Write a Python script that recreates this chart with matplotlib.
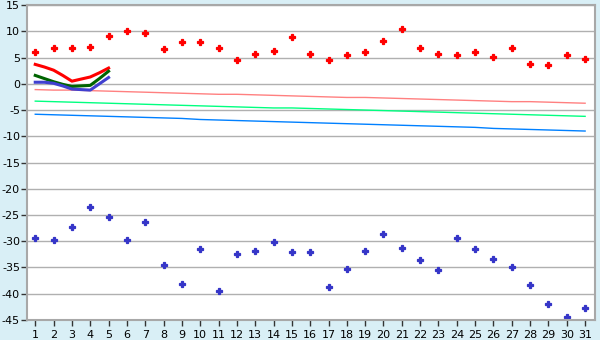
"""
Daily temperature chart: extremes, normals and first days detail
"""

import matplotlib
matplotlib.use("Agg")
import matplotlib.pyplot as plt

plt.rcParams["axes.unicode_minus"] = False

days = list(range(1, 32))

# daily maxima / minima (scatter)
max_temp = [6.0, 6.9, 6.8, 7.1, 9.2, 10.0, 9.6, 6.6, 7.9, 7.9,
            6.8, 4.6, 5.6, 6.2, 8.9, 5.7, 4.5, 5.4, 6.0, 8.1,
            10.4, 6.9, 5.7, 5.4, 6.0, 5.2, 6.8, 3.7, 3.5, 5.4, 4.8]
min_temp = [-29.4, -29.8, -27.2, -23.4, -25.4, -29.8, -26.4, -34.6, -38.2, -31.4,
            -39.5, -32.5, -31.9, -30.2, -32.1, -32.1, -38.8, -35.2, -31.9, -28.7,
            -31.2, -33.6, -35.4, -29.3, -31.5, -33.3, -35.0, -38.4, -42.0, -44.5, -42.8]

# normals (thin lines)
norm_max = [-1.1, -1.2, -1.2, -1.3, -1.4, -1.5, -1.6, -1.7, -1.8, -1.9,
            -2.0, -2.0, -2.1, -2.2, -2.3, -2.4, -2.5, -2.6, -2.6, -2.7,
            -2.8, -2.9, -3.0, -3.1, -3.2, -3.3, -3.4, -3.4, -3.5, -3.6, -3.7]
norm_mean = [-3.3, -3.4, -3.5, -3.6, -3.7, -3.8, -3.9, -4.0, -4.1, -4.2,
             -4.3, -4.4, -4.5, -4.6, -4.6, -4.7, -4.8, -4.9, -5.0, -5.1,
             -5.2, -5.3, -5.4, -5.5, -5.6, -5.7, -5.8, -5.9, -6.0, -6.1, -6.2]
norm_min = [-5.8, -5.9, -6.0, -6.1, -6.2, -6.3, -6.4, -6.5, -6.6, -6.8,
            -6.9, -7.0, -7.1, -7.2, -7.3, -7.4, -7.5, -7.6, -7.7, -7.8,
            -7.9, -8.0, -8.1, -8.2, -8.3, -8.5, -8.6, -8.7, -8.8, -8.9, -9.0]

# current readings, first five days (half-day steps)
recent_days = [1, 1.5, 2, 2.5, 3, 3.5, 4, 4.5, 5]
recent_max = [3.7, 3.2, 2.6, 1.6, 0.5, 0.9, 1.3, 2.1, 3.0]
recent_mean = [1.6, 1.0, 0.4, -0.1, -0.5, -0.4, -0.3, 1.0, 2.4]
recent_min = [0.3, 0.3, 0.1, -0.4, -1.0, -1.1, -1.2, 0.0, 1.2]

fig = plt.figure(figsize=(6, 3.4), dpi=100, facecolor="#d9eff6")
ax = fig.add_axes([0.045, 0.059, 0.947, 0.926])
ax.set_facecolor("white")

# grid
ax.grid(axis="y", color="#b0b0b0", linewidth=1)
ax.set_axisbelow(True)

# normals
ax.plot(days, norm_max, color="#ff8080", linewidth=1)
ax.plot(days, norm_mean, color="#00ff80", linewidth=1)
ax.plot(days, norm_min, color="#0080ff", linewidth=1)

# recent readings
ax.plot(recent_days, recent_max, color="#ff0000", linewidth=2.2)
ax.plot(recent_days, recent_mean, color="#006400", linewidth=2.2)
ax.plot(recent_days, recent_min, color="#4040d0", linewidth=2.2)

# extremes
ax.plot(days, max_temp, linestyle="none", marker="P", markersize=4.5,
        color="#ff0000", markeredgewidth=0.9)
ax.plot(days, min_temp, linestyle="none", marker="P", markersize=4.5,
        color="#3535c8", markeredgewidth=0.9)

ax.set_xlim(0.55, 31.55)
ax.set_ylim(-45, 15)
ax.set_xticks(days)
ax.set_yticks(range(-45, 16, 5))

for side in ax.spines.values():
    side.set_color("#a8a8a8")
    side.set_linewidth(1.5)

ax.tick_params(axis="both", labelsize=8, color="#333333", length=4,
               width=1, pad=2)
ax.tick_params(axis="y", pad=1)
ax.tick_params(axis="x", pad=3)

fig.savefig("out.png", dpi=100, facecolor=fig.get_facecolor())
